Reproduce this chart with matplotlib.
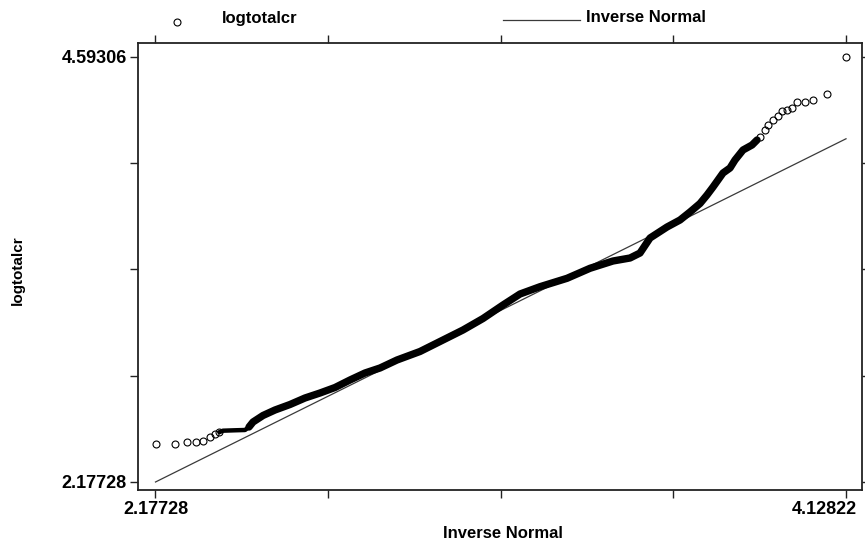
import matplotlib
matplotlib.use("Agg")
import matplotlib.pyplot as plt
import matplotlib.transforms as mtransforms
from matplotlib.lines import Line2D

plt.rcParams["font.family"] = ["Liberation Sans", "DejaVu Sans"]

# inverse normal (x) vs sorted logtotalcr (y)
# sparse low tail (drawn as circles)
low_x = [2.1773, 2.2324, 2.2671, 2.2931, 2.3107, 2.3313, 2.3454, 2.3576]
low_y = [2.3916, 2.3916, 2.4047, 2.4047, 2.4121, 2.4331, 2.4518, 2.4604]

# thin start of the dense run
start_x = [2.3576, 2.3680, 2.4019, 2.4302, 2.4415]
start_y = [2.4604, 2.4689, 2.4712, 2.4729, 2.4900]

# dense middle band (circles overlap into a solid band)
band_x = [2.4415, 2.4528, 2.4810, 2.5149, 2.5573, 2.5997,
          2.6421, 2.6845, 2.7268, 2.7692, 2.8116, 2.8596, 2.9246, 2.9811,
          3.0461, 3.1026, 3.1591, 3.2072, 3.2637, 3.3400, 3.4049, 3.4699,
          3.5180, 3.5462, 3.5745, 3.6225, 3.6592, 3.6875, 3.7157, 3.7355,
          3.7525, 3.7666, 3.7807, 3.8005, 3.8146, 3.8372, 3.8627, 3.8768]
band_y = [2.4900, 2.5183, 2.5553, 2.5865, 2.6178, 2.6548,
          2.6832, 2.7144, 2.7571, 2.7969, 2.8253, 2.8707, 2.9191, 2.9759,
          3.0413, 3.1066, 3.1834, 3.2459, 3.2874, 3.3351, 3.3920, 3.4335,
          3.4505, 3.4789, 3.5642, 3.6267, 3.6665, 3.7120, 3.7603, 3.8086,
          3.8541, 3.8939, 3.9337, 3.9621, 4.0075, 4.0644, 4.0928, 4.1212]

# sparse high tail
high_x = [3.8853, 3.8994, 3.9087, 3.9228, 3.9370, 3.9466, 3.9601, 3.9743,
          3.9898, 4.0110, 4.0350, 4.0737, 4.12822]
high_y = [4.1400, 4.1781, 4.2065, 4.2349, 4.2576, 4.2861, 4.2946, 4.3014,
          4.3372, 4.3355, 4.3458, 4.3827, 4.59306]

# reference line (inverse normal)
ref_x = [2.17728, 4.12822]
ref_y = [2.17728, 4.12822]

x_ticks = [2.17728, 2.6650, 3.15275, 3.6405, 4.12822]
x_labels = ["2.17728", "", "", "", "4.12822"]
y_ticks = [2.17728, 2.78123, 3.38517, 3.98912, 4.59306]
y_labels = ["2.17728", "", "", "", "4.59306"]

fig = plt.figure(figsize=(8.65, 5.45), dpi=100)
ax = fig.add_axes([138 / 865, 1 - 490 / 545, 724 / 865, 447 / 545])

ax.plot(ref_x, ref_y, color="#3a3a3a", lw=0.9)
ax.plot(start_x, start_y, color="black", lw=3.2, solid_capstyle="round",
        solid_joinstyle="round")
ax.plot(band_x, band_y, color="black", lw=5.3, solid_capstyle="round",
        solid_joinstyle="round")
ax.plot(low_x, low_y, "o", mfc="none", mec="black", ms=5, mew=0.8)
ax.plot(high_x, high_y, "o", mfc="none", mec="black", ms=5, mew=0.8)

ax.set_xlim(2.12784, 4.1734)
ax.set_ylim(2.1318, 4.6726)

ax.set_xticks(x_ticks)
ax.set_xticklabels(x_labels)
ax.set_yticks(y_ticks)
ax.set_yticklabels(y_labels)
ax.tick_params(top=True, right=True, direction="out", length=6, width=1,
               labelsize=13, pad=2, color="#222")
for lab in ax.get_xticklabels() + ax.get_yticklabels():
    lab.set_fontweight("bold")
last = ax.get_xticklabels()[-1]
last.set_ha("right")
last.set_transform(last.get_transform()
                   + mtransforms.ScaledTranslation(0.11, 0, fig.dpi_scale_trans))

for s in ax.spines.values():
    s.set_linewidth(1.3)
    s.set_color("#222")

fig.text(503 / 865, 1 - 533 / 545, "Inverse Normal", ha="center", va="center",
         fontsize=12, fontweight="bold")
fig.text(18 / 865, 1 - 270 / 545, "logtotalcr", ha="center", va="center",
         rotation=90, fontsize=11, fontweight="bold")

# legend above the plot
fig.add_artist(Line2D([177 / 865], [1 - 22 / 545], marker="o", mfc="none",
                      mec="black", ms=5, mew=0.8, transform=fig.transFigure))
fig.text(222 / 865, 1 - 18 / 545, "logtotalcr", ha="left", va="center",
         fontsize=12, fontweight="bold")
fig.add_artist(Line2D([503 / 865, 580 / 865], [1 - 20 / 545, 1 - 20 / 545],
                      color="#3a3a3a", lw=0.9, transform=fig.transFigure))
fig.text(586 / 865, 1 - 18 / 545, "Inverse Normal", ha="left", va="center",
         fontsize=12, fontweight="bold")

fig.savefig("out.png", dpi=100)
